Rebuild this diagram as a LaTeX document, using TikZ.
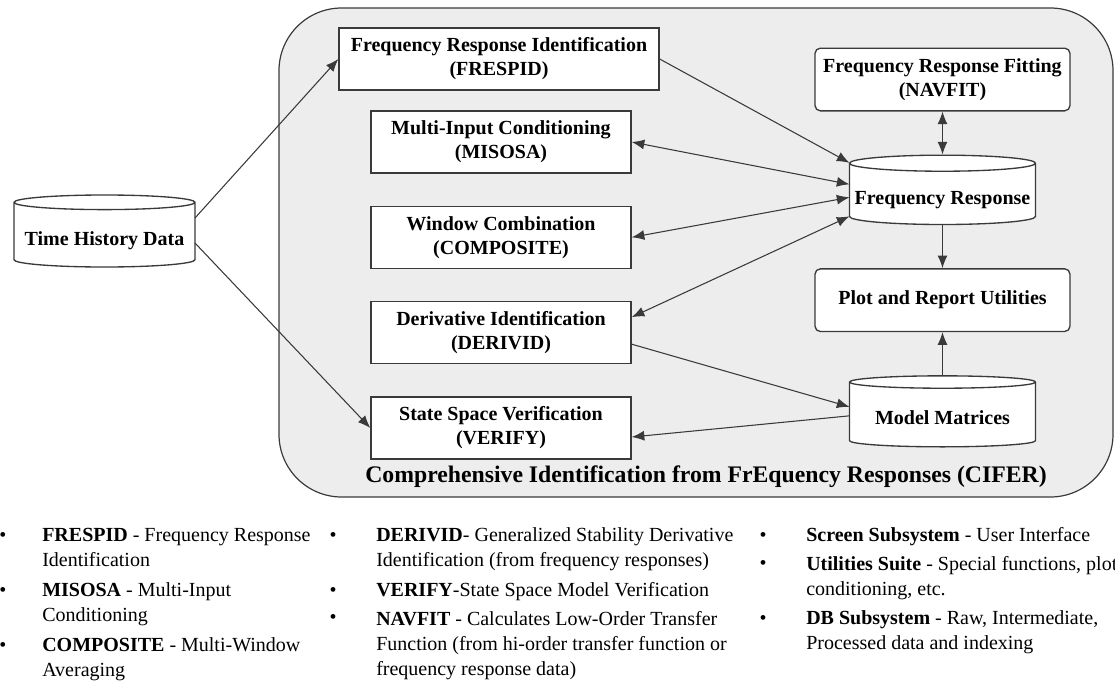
\documentclass[tikz,border=0pt]{standalone}
\usepackage{fontspec}
\setmainfont{Liberation Serif}
\usetikzlibrary{arrows.meta, positioning, calc, shapes.geometric}

\definecolor{ciferbg}{HTML}{EDEDED}
\definecolor{linegray}{HTML}{3A3A3A}

\begin{document}
\begin{tikzpicture}[
  x=0.75pt, y=-0.75pt,
  box/.style={draw=linegray, line width=1pt, fill=white, minimum width=195pt,
              minimum height=46.5pt, align=center, inner sep=2pt,
              font=\fontsize{15}{18}\selectfont\bfseries},
  rbox/.style={box, rounded corners=4pt, minimum width=191.25pt, minimum height=47pt},
  db/.style={cylinder, shape border rotate=90, aspect=0.09, draw=linegray,
             line width=1pt, fill=white, minimum width=139.5pt, minimum height=52pt,
             inner sep=1pt, text height=17.7pt, text depth=3.3pt,
             font=\fontsize{15}{18}\selectfont\bfseries},
  arrow/.style={-{Latex[length=9.5pt, width=7.5pt]}, linegray, line width=0.8pt},
  darrow/.style={{Latex[length=9.5pt, width=7.5pt]}-{Latex[length=9.5pt, width=7.5pt]},
                 linegray, line width=0.8pt},
  bul/.style={anchor=base, font=\fontsize{15}{18.75}\selectfont, inner sep=0pt},
  item/.style={anchor=base west, align=left, inner sep=0pt,
               font=\fontsize{15}{18.75}\selectfont},
  node distance=32.25pt
]

\useasboundingbox (0,0) rectangle (1115,682);

% CIFER frame
\node[draw=linegray, line width=0.9pt, fill=ciferbg, rounded corners=47pt,
      minimum width=625.5pt, minimum height=366.75pt] (cifer) at (696,252.5) {};
\node[font=\fontsize{17.8}{20}\selectfont\bfseries, anchor=base] (title) at (706,482)
  {Comprehensive Identification from FrEquency Responses (CIFER)};

\node[db, minimum width=135.75pt, minimum height=54pt, anchor=shape center] (thd)
  at (104.5,231) {Time History Data};

% left column
\node[box, minimum width=240pt] (frespid) at (499,59)
  {Frequency Response Identification\\(FRESPID)};
\node[box] (misosa) at (501,142) {Multi-Input Conditioning\\(MISOSA)};
\node[box, below=24pt of misosa] (composite) {Window Combination\\(COMPOSITE)};
\node[box, below=24pt of composite] (derivid) {Derivative Identification\\(DERIVID)};
\node[box, below=24pt of derivid] (verify) {State Space Verification\\(VERIFY)};

% right column
\node[rbox] (navfit) at (942.5,79.5) {Frequency Response Fitting\\(NAVFIT)};
\node[db, below=of navfit] (fr) {Frequency Response};
\node[rbox, below=of fr] (plot) {Plot and Report Utilities};
\node[db, minimum height=53.25pt, below=of plot] (mm) {Model Matrices};

\draw[arrow] ($(thd.shape center)+(90.5,-13)$) -- (frespid.west);
\draw[arrow] ($(thd.shape center)+(90.5,12)$) -- (verify.west);
\draw[arrow] (frespid.east) -- ($(fr.shape center)+(-93,-27)$);
\draw[darrow] (misosa.east) -- ($(fr.shape center)+(-93,-5.5)$);
\draw[darrow] (composite.east) -- ($(fr.shape center)+(-93,7.5)$);
\draw[darrow] ($(derivid.east)+(0,-15.5)$) -- ($(fr.shape center)+(-93,26.5)$);
\draw[arrow] ($(derivid.east)+(0,11.5)$) -- ($(mm.shape center)+(-93,-4.5)$);
\draw[arrow] ($(mm.shape center)+(-93,4.5)$) -- ($(verify.east)+(0,9)$);
\draw[darrow] (navfit.south) -- (fr.north);
\draw[arrow] (fr.south) -- (plot.north);
\draw[arrow] (mm.north) -- (plot.south);

% legend
\node[bul] (b1) at (3,541) {\textbullet};
\node[item] (l1) at (42,566) {\textbf{FRESPID} - Frequency Response\\Identification};
\node[bul] (b2) at (3,596) {\textbullet};
\node[item] (l2) at (42,621) {\textbf{MISOSA} - Multi-Input\\Conditioning};
\node[bul] (b3) at (3,651) {\textbullet};
\node[item] (l3) at (42,676) {\textbf{COMPOSITE} - Multi-Window\\Averaging};

\node[bul] (b4) at (333,541) {\textbullet};
\node[item] (l4) at (376,566)
  {\textbf{DERIVID}- Generalized Stability Derivative\\Identification (from frequency responses)};
\node[bul] (b5) at (333,596) {\textbullet};
\node[item] (l5) at (376,596) {\textbf{VERIFY}-State Space Model Verification};
\node[bul] (b6) at (333,623) {\textbullet};
\node[item] (l6) at (376,675)
  {\textbf{NAVFIT} - Calculates Low-Order Transfer\\Function (from hi-order transfer function or\\frequency response data)};

\node[bul] (b7) at (763,541) {\textbullet};
\node[item] (l7) at (806,541) {\textbf{Screen Subsystem} - User Interface};
\node[bul] (b8) at (763,569) {\textbullet};
\node[item] (l8) at (806,595) {\textbf{Utilities Suite} - Special functions, plot\\conditioning, etc.};
\node[bul] (b9) at (763,624) {\textbullet};
\node[item] (l9) at (806,649) {\textbf{DB Subsystem} - Raw, Intermediate,\\Processed data and indexing};

\end{tikzpicture}
\end{document}
